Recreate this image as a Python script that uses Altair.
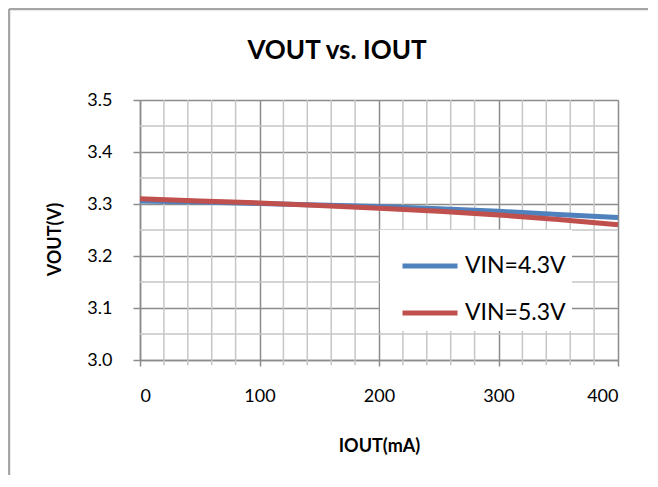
import altair as alt
import pandas as pd

# ---- data ----
IOUT = [0, 50, 100, 150, 200, 250, 300, 350, 400]
VOUT_43 = [3.306, 3.304, 3.301, 3.298, 3.295, 3.291, 3.286, 3.280, 3.274]
VOUT_53 = [3.310, 3.306, 3.302, 3.297, 3.292, 3.286, 3.279, 3.270, 3.260]
SERIES = ["VIN=4.3V", "VIN=5.3V"]
COLORS = ["#4F81BD", "#C0504D"]

X_TICKS = [0, 100, 200, 300, 400]
Y_TICKS = [3.0, 3.1, 3.2, 3.3, 3.4, 3.5]
MINOR_X = [20, 40, 60, 80, 120, 140, 160, 180, 220, 240, 260, 280,
           320, 340, 360, 380]
MINOR_Y = [3.05, 3.15, 3.25, 3.35, 3.45]

FONT = "Lato"
MAJOR = "#8c8c8c"
MINOR = "#c6c6c6"

rows = []
for x, a, b in zip(IOUT, VOUT_43, VOUT_53):
    rows.append({"IOUT": x, "VOUT": a, "series": SERIES[0]})
    rows.append({"IOUT": x, "VOUT": b, "series": SERIES[1]})
df = pd.DataFrame(rows)

xscale = alt.Scale(domain=[0, 400], nice=False)
yscale = alt.Scale(domain=[3.0, 3.5], nice=False, zero=False)

minor_x = alt.Chart(pd.DataFrame({"v": MINOR_X})).mark_rule(
    color=MINOR, strokeWidth=1.5
).encode(
    x=alt.X("v:Q", scale=xscale),
    y=alt.datum(2.99),
    y2=alt.datum(3.5),
)

minor_y = alt.Chart(pd.DataFrame({"v": MINOR_Y})).mark_rule(
    color=MINOR, strokeWidth=1.5
).encode(
    y=alt.Y("v:Q", scale=yscale),
    x=alt.datum(0),
    x2=alt.datum(400),
)

lines = alt.Chart(df).mark_line(strokeWidth=5, strokeCap="butt").encode(
    x=alt.X(
        "IOUT:Q",
        scale=xscale,
        axis=alt.Axis(
            values=X_TICKS,
            title="IOUT(mA)",
            grid=True,
            gridColor=MAJOR,
            gridWidth=1.5,
            domainColor=MAJOR,
            domainWidth=1.5,
            tickColor=MAJOR,
            tickWidth=1.5,
            tickSize=6,
            labelFont=FONT,
            labelFontSize=18,
            labelColor="black",
            labelPadding=21,
            titleFont=FONT,
            titleFontSize=18,
            titleFontWeight="bold",
            titleColor="black",
            titleY=86,
            titleBaseline="middle",
        ),
    ),
    y=alt.Y(
        "VOUT:Q",
        scale=yscale,
        axis=alt.Axis(
            values=Y_TICKS,
            format=".1f",
            title="VOUT(V)",
            grid=True,
            gridColor=MAJOR,
            gridWidth=1.5,
            domainColor=MAJOR,
            domainWidth=1.5,
            tickColor=MAJOR,
            tickWidth=1.5,
            tickSize=7,
            labelFont=FONT,
            labelFontSize=18,
            labelColor="black",
            labelPadding=21,
            titleFont=FONT,
            titleFontSize=18,
            titleFontWeight="bold",
            titleColor="black",
            titleX=-85,
            titleY=139,
            titleBaseline="middle",
        ),
    ),
    color=alt.Color(
        "series:N",
        scale=alt.Scale(domain=SERIES, range=COLORS),
        legend=alt.Legend(
            title=None,
            orient="none",
            legendX=240,
            legendY=130,
            fillColor="white",
            padding=6,
            symbolType="stroke",
            symbolSize=3025,
            symbolStrokeWidth=5,
            symbolOffset=14,
            labelOffset=5,
            labelFont=FONT,
            labelFontSize=23,
            labelColor="black",
            rowPadding=5,
        ),
    ),
    order=alt.Order("series:N"),
)

border_df = pd.DataFrame({"a": [0]})
border_left = alt.Chart(border_df).mark_rule(color="#a6a6a6", strokeWidth=2.5).encode(
    x=alt.value(-131), y=alt.value(-91), y2=alt.value(380)
)
border_top = alt.Chart(border_df).mark_rule(color="#a6a6a6", strokeWidth=2.5).encode(
    x=alt.value(-131), x2=alt.value(520), y=alt.value(-91)
)

chart = alt.layer(minor_x, minor_y, lines, border_left, border_top).properties(
    width=478,
    height=260,
    padding={"left": 132, "top": 92, "right": 30, "bottom": 115},
    autosize=alt.AutoSizeParams(type="none"),
    title=alt.TitleParams(
        "VOUT vs. IOUT",
        font=FONT,
        fontSize=26,
        fontWeight="bold",
        color="black",
        anchor="middle",
        frame="group",
        baseline="alphabetic",
        offset=-77,
        dx=-42,
    ),
).configure_view(stroke=None).configure(background="white")

chart.save("out.html", embed_options={"renderer": "svg", "actions": False})
